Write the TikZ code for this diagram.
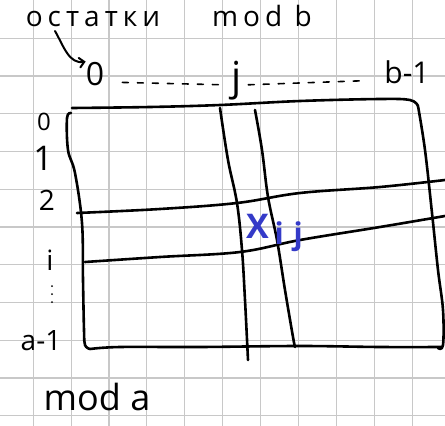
\documentclass[tikz,border=0pt]{standalone}
\usepackage{fontspec}
\setmainfont{Open Sans}
\usetikzlibrary{arrows}
\definecolor{gridgray}{RGB}{200,200,200}
\definecolor{blueink}{RGB}{52,58,200}

\begin{document}
\begin{tikzpicture}[x=1pt,y=-1pt,
    pen/.style={line width=2.6pt,line cap=round,line join=round},
    gridline/.style={gridgray,line width=1.1pt},
    lab/.style={font=\fontsize{28}{30}\selectfont,inner sep=0pt,anchor=base},
    big/.style={font=\fontsize{28}{30}\selectfont\addfontfeatures{LetterSpace=18},
      inner sep=0pt,anchor=base}]
  \useasboundingbox (0,0) rectangle (445,426);
  \foreach \k in {0,...,10}
    \draw[gridline] ({33.2+37.9*\k},0) -- ++(0,426);
  \foreach \k in {1,...,11}
    \draw[gridline] (0,{0.5+37.75*\k}) -- ++(445,0);

  % labels on top
  \node[big] (ost) at (93,26) {остатки};
  \node[big] (modb) at (262,26) {mod b};
  \node[lab,font=\fontsize{32}{34}\selectfont] (c0) at (95,85) {0};
  \node[lab,font=\fontsize{40}{42}\selectfont] (cj) at (237,90) {j};
  \node[lab,font=\fontsize{30}{32}\selectfont] (cb) at (407,83) {b-1};
  \coordinate (arr) at (55,31);
  \draw[pen,line width=2pt,->,>=angle 90] (arr) to[out=-60,in=190] (c0.north west);
  \path[pen,line width=1.6pt,dash pattern=on 6pt off 9pt]
    ([yshift=3pt]c0.base east) edge[shorten <=18pt,shorten >=12pt] ([yshift=5pt]cj.base west)
    ([yshift=5pt]cj.base east) edge[shorten <=6pt,shorten >=24pt] ([yshift=3pt]cb.base west);

  % labels on the left
  \node[lab,font=\fontsize{24}{26}\selectfont] (r0) at (44,130) {0};
  \node[lab,font=\fontsize{34}{36}\selectfont] (r1) at (43,170) {1};
  \node[lab] (r2) at (47,210) {2};
  \node[lab] (ri) at (50,270) {i};
  \node[lab] (ra) at (41,350) {a-1};
  \foreach \y in {286,294,302}
    \fill (52,\y) circle (1pt);
  \node[lab,font=\fontsize{36}{38}\selectfont] (moda) at (97,410) {mod a};

  % the table
  \draw[pen] plot[smooth,tension=0.6] coordinates
    {(72,108) (150,107) (220,105) (300,101) (380,99) (410,100) (418,106)};
  \draw[pen] plot[smooth,tension=0.6] coordinates
    {(418,106) (425,150) (432,213) (438,270) (443,310) (443,345) (438,348)};
  \draw[pen] plot[smooth,tension=0.6] coordinates
    {(442,347) (380,347) (300,346) (200,347) (120,347) (90,349)};
  \draw[pen] plot[smooth,tension=0.6] coordinates
    {(71,113) (67,118) (68,150) (75,173) (82,223) (83,280) (84,330) (85,345) (90,349)};
  \draw[pen] plot[smooth,tension=0.6] coordinates
    {(77,213) (160,209) (237,203) (300,193) (380,187) (445,180)};
  \draw[pen] plot[smooth,tension=0.6] coordinates
    {(85,262) (160,257) (240,252) (300,240) (380,227) (445,216)};
  \draw[pen] plot[smooth,tension=0.6] coordinates
    {(220,108) (228,160) (237,203) (242,250) (245,300) (248,360)};
  \draw[pen] plot[smooth,tension=0.6] coordinates
    {(255,110) (262,150) (268,197) (277,240) (285,290) (293,337) (295,347)};

  \node[inner sep=0pt,anchor=base west,blueink,font=\fontsize{34}{36}\selectfont\bfseries]
    (xij) at (246,238) {X\,\raisebox{-6pt}{\fontsize{30}{32}\selectfont\bfseries i\,\,j}};
\end{tikzpicture}
\end{document}
